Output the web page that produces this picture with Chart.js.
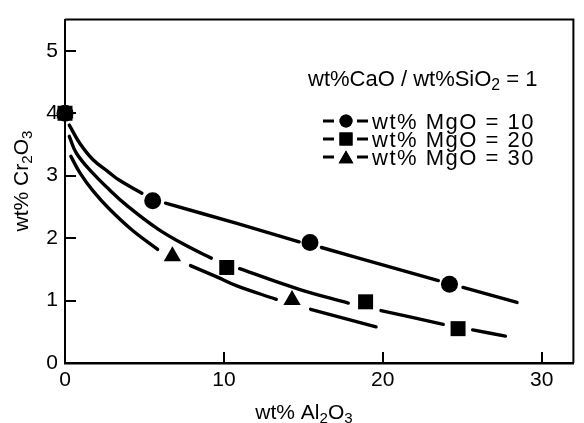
<!DOCTYPE html>
<html>
<head>
<meta charset="utf-8">
<script src="https://cdn.jsdelivr.net/npm/chart.js@4/dist/chart.umd.min.js"></script>
<style>
  html, body { margin: 0; padding: 0; background: #fff; }
  #wrap { width: 584px; height: 423px; }
</style>
</head>
<body>
<div id="wrap"><canvas id="chart" width="584" height="423"></canvas></div>
<script>
// ---- data ----
const xTicks = [0, 10, 20, 30];
const yTicks = [0, 1, 2, 3, 4, 5];

// measured points (wt% Al2O3, wt% Cr2O3)
const mg10X = [0, 5.52, 15.42, 24.2];
const mg10Y = [4.0, 2.60, 1.93, 1.26];
const mg20X = [0, 10.18, 18.92, 24.74];
const mg20Y = [4.0, 1.53, 0.98, 0.55];
const mg30X = [0, 6.76, 14.29];
const mg30Y = [4.0, 1.71, 1.01];

// hand-drawn fitted curves, null = break around a marker
const curve10X = [0.27, 0.93, 1.75, 2.78, 3.40, 4.84, 5.52, 6.33, 10.82, 14.74, 15.42, 16.14, 20.72, 23.5, 24.2, 25.05, 28.45];
const curve10Y = [3.81, 3.52, 3.26, 3.05, 2.93, 2.72, null, 2.56, 2.235, 1.94, null, 1.85, 1.52, 1.32, null, 1.21, 0.97];
const curve20X = [0.27, 0.72, 1.75, 2.78, 3.81, 5.88, 7.93, 9.21, 10.18, 10.99, 14.74, 17.83, 18.92, 19.89, 23.81, 24.74, 25.66, 27.72];
const curve20Y = [3.63, 3.36, 3.04, 2.78, 2.54, 2.14, 1.84, 1.68, null, 1.51, 1.18, 0.96, null, 0.84, 0.62, null, 0.53, 0.43];
const curve30X = [0.37, 0.93, 1.75, 2.78, 4.22, 5.83, 6.76, 7.90, 9.59, 10.82, 13.30, 14.29, 15.46, 19.58];
const curve30Y = [3.31, 3.05, 2.76, 2.47, 2.13, 1.82, null, 1.56, 1.375, 1.235, 1.02, null, 0.86, 0.58];

const legendTitle = [['wt%CaO / wt%SiO', 0], ['2', 1], [' = 1', 0]];
const legendLabels = ['wt% MgO = 10', 'wt% MgO = 20', 'wt% MgO = 30'];
const yTitle = [['wt% Cr', 0], ['2', 1], ['O', 0], ['3', 1]];
const xTitle = [['wt% Al', 0], ['2', 1], ['O', 0], ['3', 1]];

const FONT = '"Liberation Sans", Arial, sans-serif';
const markerStyles = [
  { pointStyle: 'circle', radius: 8.5, legendRadius: 6.5 },
  { pointStyle: 'rect', radius: 10.6, legendRadius: 9.2 },
  { pointStyle: 'triangle', radius: 10, legendRadius: 8.5 }
];

function zip(xs, ys) {
  return xs.map((x, i) => ({ x: x, y: ys[i] }));
}

function curveSet(xs, ys) {
  return {
    type: 'scatter',
    data: zip(xs, ys),
    showLine: true,
    spanGaps: false,
    borderColor: '#000',
    borderWidth: 3.4,
    borderCapStyle: 'round',
    tension: 0.4,
    pointRadius: 0,
    fill: false,
    order: 2
  };
}

function markerSet(xs, ys, style) {
  return {
    type: 'scatter',
    data: zip(xs, ys),
    showLine: false,
    pointStyle: style.pointStyle,
    pointRadius: style.radius,
    backgroundColor: '#000',
    borderColor: '#000',
    pointBorderWidth: 0,
    clip: false,
    order: 1
  };
}

// text with subscripts, parts = [[text, isSub], ...]
function drawRich(ctx, parts, x, y, size, align) {
  const widths = parts.map(p => {
    ctx.font = (p[1] ? size * 0.72 : size) + 'px ' + FONT;
    return ctx.measureText(p[0]).width;
  });
  const total = widths.reduce((a, b) => a + b, 0);
  let cx = align === 'center' ? x - total / 2 : x;
  ctx.textAlign = 'left';
  ctx.textBaseline = 'alphabetic';
  parts.forEach((p, i) => {
    ctx.font = (p[1] ? size * 0.72 : size) + 'px ' + FONT;
    ctx.fillText(p[0], cx, p[1] ? y + size * 0.2 : y);
    cx += widths[i];
  });
}

const decorPlugin = {
  id: 'decor',
  beforeDatasetsDraw(chart) {
    const ctx = chart.ctx;
    const area = chart.chartArea;
    const xs = chart.scales.x;
    const ys = chart.scales.y;
    ctx.save();
    ctx.strokeStyle = '#000';
    ctx.lineWidth = 2;
    // frame (top and right)
    ctx.beginPath();
    ctx.moveTo(area.left, area.top);
    ctx.lineTo(area.right, area.top);
    ctx.lineTo(area.right, area.bottom);
    ctx.stroke();
    // inward tick marks
    ctx.beginPath();
    yTicks.filter(v => v > 0).forEach(v => {
      const py = Math.round(ys.getPixelForValue(v));
      ctx.moveTo(area.left, py);
      ctx.lineTo(area.left + 11, py);
    });
    xTicks.filter(v => v > 0).forEach(v => {
      const px = Math.round(xs.getPixelForValue(v));
      ctx.moveTo(px, area.bottom);
      ctx.lineTo(px, area.bottom - 11);
    });
    ctx.stroke();
    ctx.restore();
  },
  afterDraw(chart) {
    const ctx = chart.ctx;
    ctx.save();
    ctx.fillStyle = '#000';
    ctx.strokeStyle = '#000';

    // axis titles
    drawRich(ctx, xTitle, 304, 419, 21, 'center');
    ctx.save();
    ctx.translate(28, 181);
    ctx.rotate(-Math.PI / 2);
    drawRich(ctx, yTitle, 0, 0, 21, 'center');
    ctx.restore();

    // legend
    drawRich(ctx, legendTitle, 308, 86, 22, 'left');
    const rowBase = [129, 147, 165];
    legendLabels.forEach((label, i) => {
      const cy = rowBase[i] - 8;
      ctx.lineWidth = 3;
      ctx.beginPath();
      ctx.moveTo(323, cy);
      ctx.lineTo(334, cy);
      ctx.moveTo(357, cy);
      ctx.lineTo(368, cy);
      ctx.stroke();
      const st = markerStyles[i];
      Chart.helpers.drawPoint(ctx, {
        pointStyle: st.pointStyle,
        radius: st.legendRadius,
        rotation: 0,
        borderWidth: 0
      }, 346, st.pointStyle === 'triangle' ? cy + 2 : cy);
      ctx.fill();
      ctx.font = '22px ' + FONT;
      ctx.letterSpacing = '1.5px';
      ctx.textAlign = 'left';
      ctx.textBaseline = 'alphabetic';
      ctx.fillText(label, 372, rowBase[i]);
      ctx.letterSpacing = '0px';
    });
    ctx.restore();
  }
};

new Chart(document.getElementById('chart'), {
  type: 'scatter',
  data: {
    datasets: [
      curveSet(curve10X, curve10Y),
      curveSet(curve20X, curve20Y),
      curveSet(curve30X, curve30Y),
      markerSet(mg10X, mg10Y, markerStyles[0]),
      markerSet(mg20X, mg20Y, markerStyles[1]),
      markerSet(mg30X, mg30Y, markerStyles[2])
    ]
  },
  options: {
    responsive: false,
    animation: false,
    layout: { padding: { top: 15, right: 1, left: 0, bottom: 0 } },
    plugins: {
      legend: { display: false },
      tooltip: { enabled: false }
    },
    scales: {
      x: {
        type: 'linear',
        min: 0,
        max: 32,
        afterBuildTicks: s => { s.ticks = xTicks.map(v => ({ value: v })); },
        afterFit: s => { s.height = 60; },
        grid: { display: false, drawTicks: false },
        border: { display: true, color: '#000', width: 2.5 },
        ticks: {
          color: '#000',
          padding: 5,
          maxRotation: 0,
          font: { family: FONT, size: 21 }
        }
      },
      y: {
        type: 'linear',
        min: 0,
        max: 5.5,
        afterBuildTicks: s => { s.ticks = yTicks.map(v => ({ value: v })); },
        afterFit: s => { s.width = 65; },
        grid: { display: false, drawTicks: false },
        border: { display: true, color: '#000', width: 2 },
        ticks: {
          color: '#000',
          padding: 7,
          font: { family: FONT, size: 21 }
        }
      }
    }
  },
  plugins: [decorPlugin]
});
</script>
</body>
</html>
